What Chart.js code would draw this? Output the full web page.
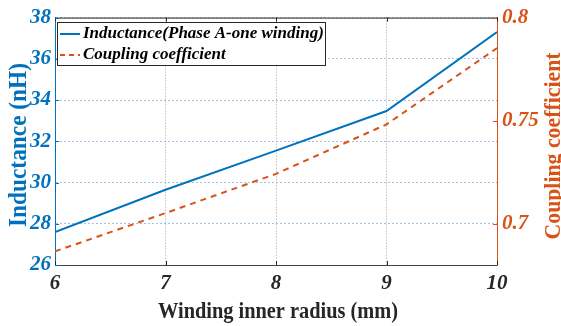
<!DOCTYPE html>
<html>
<head>
<meta charset="utf-8">
<script src="https://cdn.jsdelivr.net/npm/chart.js@4.4.1/dist/chart.umd.min.js"></script>
<style>
html,body{margin:0;padding:0;background:#fff;}
#wrap{width:561px;height:326px;position:relative;}
</style>
</head>
<body>
<div id="wrap"><canvas id="c" width="561" height="326"></canvas></div>
<script>
const radius = [6, 7, 8, 9, 10];
const inductance = [27.6, 29.65, 31.55, 33.47, 37.3];
const coupling = [0.6866, 0.7052, 0.7242, 0.7482, 0.7852];
const xTicks = [6, 7, 8, 9, 10];
const leftTicks = [26, 28, 30, 32, 34, 36, 38];
const rightTicks = [0.7, 0.75, 0.8];
const labelInd = 'Inductance(Phase A-one winding)';
const labelCoup = 'Coupling coefficient';
const titleLeft = 'Inductance (nH)';
const titleRight = 'Coupling coefficient';
const titleX = 'Winding inner radius (mm)';

const BLUE = '#0072BD';
const ORANGE = '#D95319';
const DARK = '#262626';
const SERIF = '"Liberation Serif", "Times New Roman", serif';

function drawTitle(ctx, text, size, color, x, y, vertical, targetLen) {
  ctx.save();
  ctx.font = 'bold ' + size + 'px ' + SERIF;
  ctx.fillStyle = color;
  ctx.textAlign = 'center';
  ctx.textBaseline = 'alphabetic';
  const w = ctx.measureText(text).width;
  const k = targetLen / w;
  ctx.translate(x, y);
  if (vertical) ctx.rotate(-Math.PI / 2);
  ctx.scale(k, 1);
  ctx.fillText(text, 0, 0);
  ctx.restore();
}

const frame = {
  id: 'frame',
  afterDatasetsDraw(chart) {
    const {ctx, chartArea: a, scales} = chart;
    ctx.save();
    ctx.lineWidth = 1;
    ctx.strokeStyle = DARK;
    ctx.beginPath(); ctx.moveTo(a.left, a.top + 0.5); ctx.lineTo(a.right, a.top + 0.5); ctx.stroke();
    const L = 4;
    scales.x.ticks.forEach(t => {
      const px = Math.round(scales.x.getPixelForValue(t.value)) + 0.5;
      ctx.strokeStyle = DARK;
      ctx.beginPath(); ctx.moveTo(px, a.bottom); ctx.lineTo(px, a.bottom - L); ctx.stroke();
      ctx.beginPath(); ctx.moveTo(px, a.top); ctx.lineTo(px, a.top + L); ctx.stroke();
    });
    scales.y.ticks.forEach(t => {
      const py = Math.round(scales.y.getPixelForValue(t.value)) + 0.5;
      ctx.strokeStyle = BLUE;
      ctx.beginPath(); ctx.moveTo(a.left, py); ctx.lineTo(a.left + L, py); ctx.stroke();
    });
    scales.y1.ticks.forEach(t => {
      const py = Math.round(scales.y1.getPixelForValue(t.value)) + 0.5;
      ctx.strokeStyle = ORANGE;
      ctx.beginPath(); ctx.moveTo(a.right, py); ctx.lineTo(a.right - L, py); ctx.stroke();
    });
    ctx.restore();
  },
  afterDraw(chart) {
    const {ctx} = chart;
    // axis titles (slightly condensed serif, as in the source figure)
    drawTitle(ctx, titleX, 24, DARK, 278, 318, false, 240);
    drawTitle(ctx, titleLeft, 25, BLUE, 26, 145, true, 164);
    drawTitle(ctx, titleRight, 23, ORANGE, 560, 146, true, 187);

    // legend box
    ctx.save();
    const bx = 57, by = 22, bw = 268, bh = 43;
    ctx.fillStyle = '#fff';
    ctx.fillRect(bx, by, bw, bh);
    ctx.strokeStyle = DARK;
    ctx.lineWidth = 1;
    ctx.strokeRect(bx + 0.5, by + 0.5, bw, bh);
    ctx.font = 'italic bold 17px ' + SERIF;
    ctx.textBaseline = 'middle';
    ctx.textAlign = 'left';
    const rows = [
      {label: chart.data.datasets[0].label, color: BLUE, dash: []},
      {label: chart.data.datasets[1].label, color: ORANGE, dash: [5, 4]}
    ];
    rows.forEach((r, i) => {
      const y = 34 + i * 21;
      ctx.strokeStyle = r.color;
      ctx.lineWidth = 2;
      ctx.setLineDash(r.dash);
      ctx.beginPath(); ctx.moveTo(60, y); ctx.lineTo(80, y); ctx.stroke();
      ctx.setLineDash([]);
      ctx.fillStyle = '#000';
      ctx.fillText(r.label, 83, y);
    });
    ctx.restore();
  }
};

const tickFont = {family: SERIF, size: 21, style: 'italic', weight: 'bold'};

new Chart(document.getElementById('c'), {
  type: 'line',
  data: {
    datasets: [
      {
        label: labelInd,
        data: radius.map((x, i) => ({x, y: inductance[i]})),
        yAxisID: 'y',
        borderColor: BLUE,
        borderWidth: 2,
        pointRadius: 0,
        fill: false,
        tension: 0
      },
      {
        label: labelCoup,
        data: radius.map((x, i) => ({x, y: coupling[i]})),
        yAxisID: 'y1',
        borderColor: ORANGE,
        borderWidth: 2,
        borderDash: [6, 5],
        pointRadius: 0,
        fill: false,
        tension: 0
      }
    ]
  },
  options: {
    responsive: false,
    animation: false,
    devicePixelRatio: 1,
    layout: {padding: {top: 16, left: 0, right: 0, bottom: 0}},
    plugins: {legend: {display: false}, tooltip: {enabled: false}},
    scales: {
      x: {
        type: 'linear', min: 6, max: 10,
        afterBuildTicks: s => { s.ticks = xTicks.map(v => ({value: v})); },
        afterFit: s => { s.height = 61; },
        ticks: {color: DARK, font: tickFont, padding: 6, callback: v => String(v)},
        grid: {color: '#a0a0a0', drawTicks: false, lineWidth: 1},
        border: {display: true, color: '#3a4550', width: 1, dash: [1, 2]},
        title: {display: false}
      },
      y: {
        type: 'linear', position: 'left', min: 26, max: 38,
        afterBuildTicks: s => { s.ticks = leftTicks.map(v => ({value: v})); },
        afterFit: s => { s.width = 55; },
        ticks: {color: BLUE, font: tickFont, padding: 4, callback: v => String(v)},
        grid: {color: '#9cc3e6', drawTicks: false, lineWidth: 1},
        border: {display: true, color: BLUE, width: 1, dash: [2, 2]},
        title: {display: false}
      },
      y1: {
        type: 'linear', position: 'right', min: 0.68, max: 0.8,
        afterBuildTicks: s => { s.ticks = rightTicks.map(v => ({value: v})); },
        afterFit: s => { s.width = 64; },
        ticks: {color: ORANGE, font: tickFont, padding: 5, callback: v => String(v)},
        grid: {display: false, drawTicks: false},
        border: {display: true, color: ORANGE, width: 1}
      }
    }
  },
  plugins: [frame]
});
</script>
</body>
</html>
